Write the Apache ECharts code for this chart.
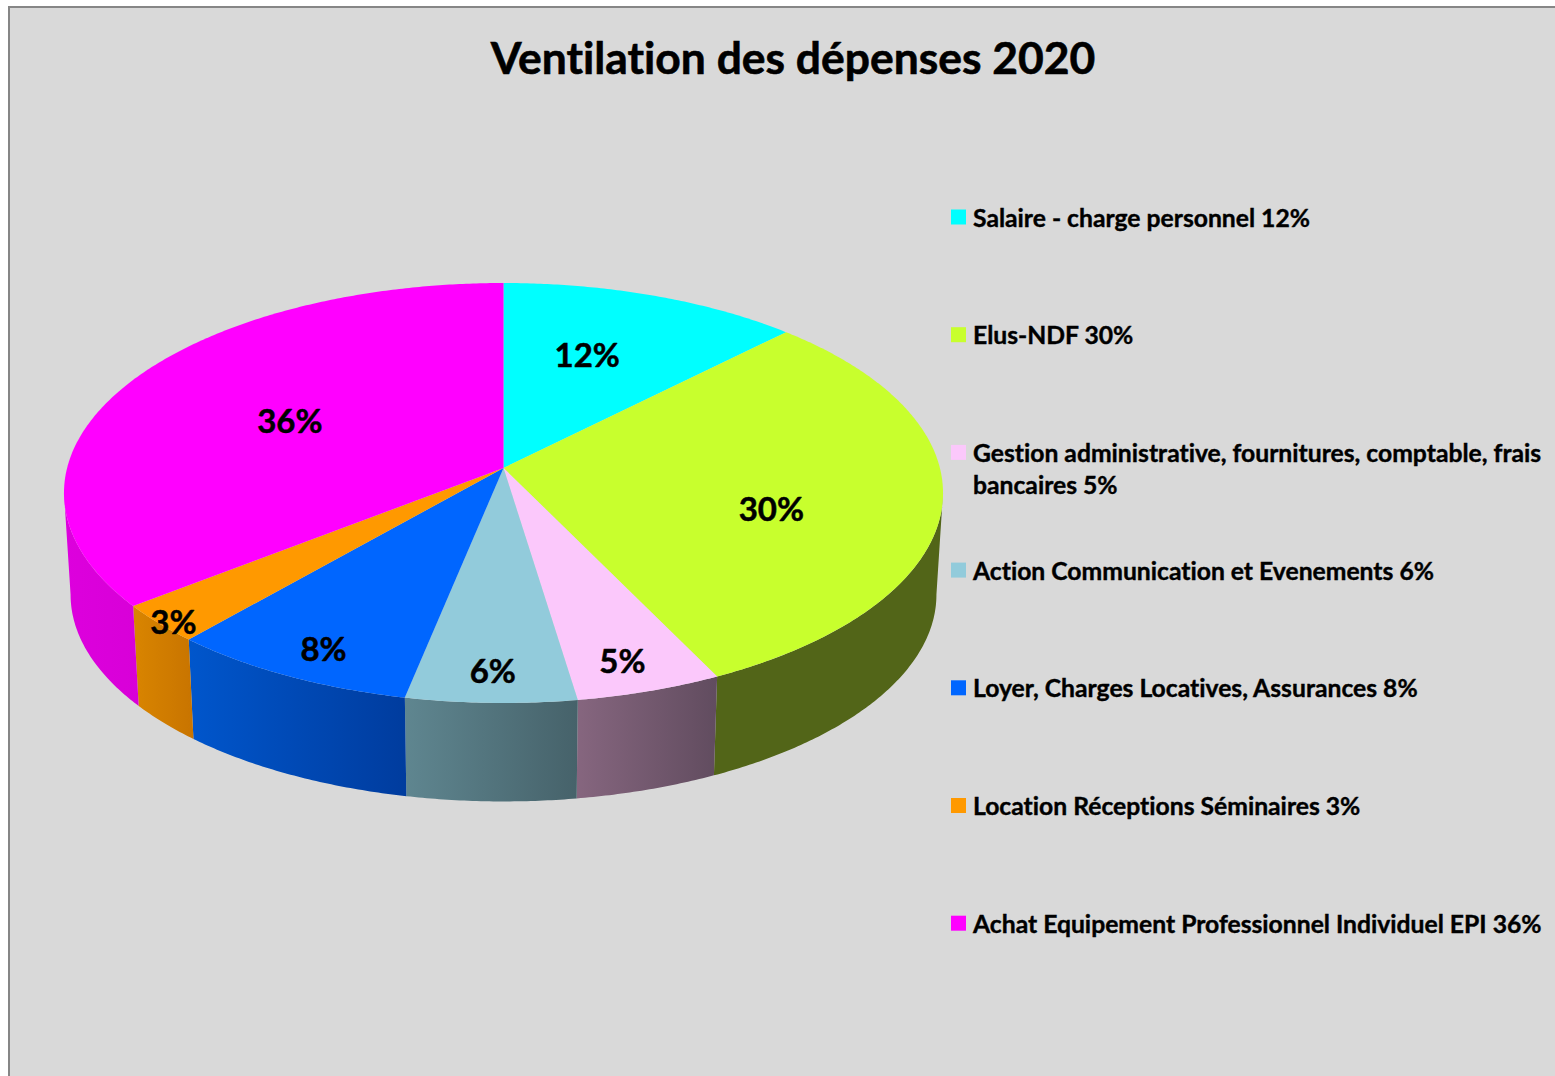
<!DOCTYPE html>
<html>
<head>
<meta charset="utf-8">
<title>Ventilation des dépenses 2020</title>
<style>
  html, body { margin: 0; padding: 0; background: #fff; font-variant-ligatures: none; }
  #chart { width: 1555px; height: 1076px; }
</style>
<script src="https://cdn.jsdelivr.net/npm/echarts@6/dist/echarts.min.js"></script>
</head>
<body>
<div id="chart"></div>
<script>
var categories = [
  'Salaire - charge personnel',
  'Elus-NDF',
  'Gestion administrative, fournitures, comptable, frais bancaires',
  'Action Communication et Evenements',
  'Loyer, Charges Locatives, Assurances',
  'Location Réceptions Séminaires',
  'Achat Equipement Professionnel Individuel EPI'
];
var shares = [12.4, 30.4, 4.8, 5.6, 8.2, 3.0, 35.6];

var topColors = ['#00ffff', '#c8ff2d', '#fbc8fb', '#92cbdb', '#0066ff', '#ff9900', '#ff00ff'];
var wallColors = [
  ['#008080', '#008080'],
  ['#526518', '#526518'],
  ['#86667f', '#614c5f'],
  ['#5f8690', '#46626a'],
  ['#0056cc', '#003c9e'],
  ['#d98500', '#c87400'],
  ['#dd00dd', '#d800d8']
];
// label placement on the slice: fraction of the radius, turn in degrees
var labelRadius = [0.62, 0.63, 0.875, 0.88, 0.875, 0.975, 0.555];
var labelTurn = [-3, 8.5, 1, 0, -1, -1, -1];

var FONT = 'Lato';
var cx = 503.5, apexY = 468;
var focal = 436.4, tiltY = 207, persp = 0.119;
var depth = 102, bottomScale = 0.985;
// where the rim turns away from the viewer, the wall is hidden beyond these
var wallFrom = 96.8, wallTo = 263.2;

function project(deg, r, lower) {
  var t = deg * Math.PI / 180;
  var d = 1 + persp * r * Math.cos(t);
  var x = focal * r * Math.sin(t) / d;
  var y = -tiltY * r * Math.cos(t) / d;
  if (lower) return [cx + x * bottomScale, apexY + y * bottomScale + depth];
  return [cx + x, apexY + y];
}

function arc(from, to, lower) {
  var pts = [];
  var n = Math.max(2, Math.ceil((to - from) * 2));
  for (var i = 0; i <= n; i++) pts.push(project(from + (to - from) * i / n, 1, lower));
  return pts;
}

function legendName(i) { return categories[i] + ' ' + Math.round(shares[i]) + '%'; }

function sliceRenderer(idx) {
  return function (params, api) {
    var from = api.value(0) * 3.6, to = api.value(1) * 3.6;
    var topArc = arc(from, to, false);
    var mid = (from + to) / 2 + labelTurn[idx];
    var at = project(mid, labelRadius[idx], false);
    var children = [
      {
        type: 'polygon',
        z2: 10,
        shape: { points: [project(0, 0, false)].concat(topArc) },
        style: { fill: topColors[idx] }
      },
      {
        type: 'text',
        z2: 20,
        style: {
          x: at[0], y: at[1] - 1,
          text: Math.round(shares[idx]) + '%',
          fill: '#000',
          stroke: '#000',
          lineWidth: 0.5,
          font: 'bold 33px ' + FONT,
          align: 'center',
          verticalAlign: 'middle'
        }
      }
    ];
    var wf = Math.max(from, wallFrom), wt = Math.min(to, wallTo);
    if (wt > wf) {
      children.push({
        type: 'polygon',
        z2: 1,
        shape: { points: arc(wf, wt, false).concat(arc(wf, wt, true).reverse()) },
        style: {
          fill: new echarts.graphic.LinearGradient(0, 0, 1, 0, [
            { offset: 0, color: wallColors[idx][0] },
            { offset: 1, color: wallColors[idx][1] }
          ])
        }
      });
    }
    return { type: 'group', children: children };
  };
}

var running = 0;
var series = categories.map(function (c, i) {
  var start = running;
  running += shares[i];
  return {
    type: 'custom',
    name: legendName(i),
    coordinateSystem: 'none',
    silent: true,
    itemStyle: { color: topColors[i] },
    renderItem: sliceRenderer(i),
    data: [[start, running]]
  };
});

var chart = echarts.init(document.getElementById('chart'), null, { renderer: 'svg' });
chart.setOption({
  animation: false,
  backgroundColor: '#ffffff',
  title: {
    text: 'Ventilation des dépenses 2020',
    left: 788,
    top: 29,
    textAlign: 'center',
    textStyle: { fontFamily: FONT, fontWeight: 'bold', fontSize: 44.4, color: '#000', textBorderColor: '#000', textBorderWidth: 0.6 }
  },
  legend: {
    orient: 'vertical',
    left: 951,
    top: 200,
    padding: 0,
    itemWidth: 15,
    itemHeight: 15,
    itemGap: 83.7,
    icon: 'rect',
    selectedMode: false,
    formatter: function (name) { return name.replace(' bancaires 5%', ''); },
    textStyle: { fontFamily: FONT, fontWeight: 'bold', fontSize: 24.7, lineHeight: 30, color: '#000', padding: [0, 0, 4, 2], textBorderColor: '#000', textBorderWidth: 0.4 },
    data: categories.map(function (c, i) { return legendName(i); })
  },
  graphic: [
    {
      type: 'rect', z: -10, silent: true,
      shape: { x: 9, y: 7, width: 2000, height: 2000 },
      style: { fill: '#d9d9d9', stroke: '#868686', lineWidth: 2 }
    },
    {
      type: 'text', silent: true,
      style: { x: 973, y: 484, text: 'bancaires ' + Math.round(shares[2]) + '%', fill: '#000', stroke: '#000', lineWidth: 0.4, font: 'bold 24.7px ' + FONT, verticalAlign: 'middle' }
    }
  ],
  series: series
});
</script>
</body>
</html>
